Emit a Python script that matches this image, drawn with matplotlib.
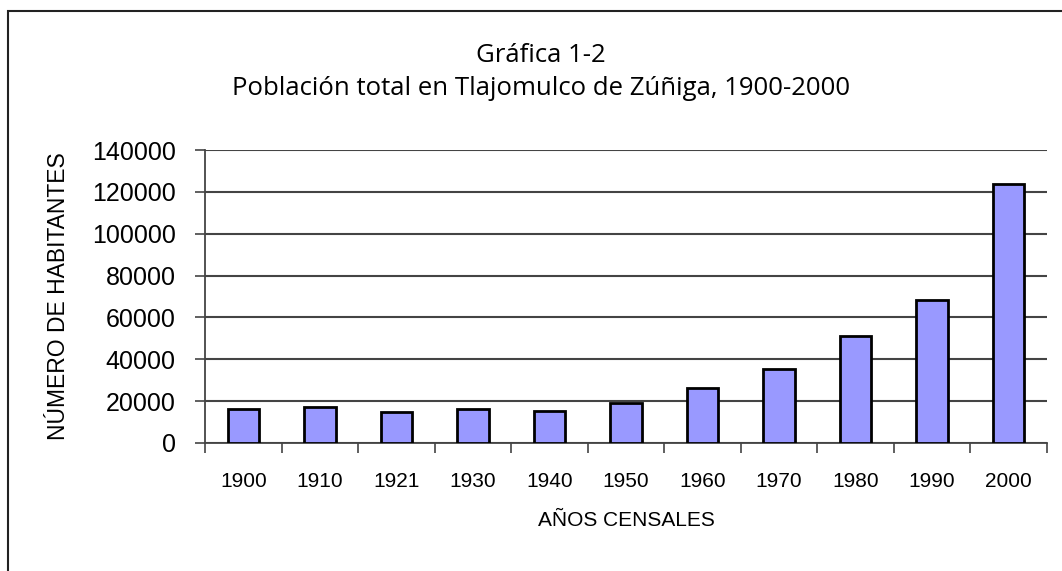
import matplotlib.pyplot as plt
import numpy as np
from matplotlib.patches import Rectangle

years = ['1900', '1910', '1921', '1930', '1940', '1950', '1960', '1970', '1980', '1990', '2000']
population = [16200, 17000, 14900, 16200, 15500, 19100, 26100, 35300, 50900, 68400, 123600]
title_lines = ['Gráfica 1-2', 'Población total en Tlajomulco de Zúñiga, 1900-2000']

W, H = 1062, 571
fig = plt.figure(figsize=(W / 100, H / 100), dpi=100)
fig.patch.set_facecolor('white')
# outer chart border (only top and left are inside the picture)
fig.add_artist(Rectangle((8 / W, -0.1), 1.2, 1 - 11 / H + 0.1, transform=fig.transFigure,
                         fill=False, edgecolor='#222222', linewidth=1.5))

ax = fig.add_axes([205 / W, 1 - 443 / H, 842 / W, 293 / H])
x = np.arange(len(years))
ax.bar(x, population, width=0.41, color='#9999ff', edgecolor='black', linewidth=2, zorder=3)

ax.set_xlim(-0.5, len(years) - 0.5)
ax.set_ylim(0, 140000)
ax.set_yticks(np.arange(0, 140001, 20000))
ax.set_yticklabels([str(v) for v in range(0, 140001, 20000)], fontsize=18, family='Liberation Sans')
ax.yaxis.grid(True, color='#444444', linewidth=1.5, zorder=0)

# category boundaries get the tick marks, labels sit in the middle
ax.set_xticks(np.arange(-0.5, len(years), 1.0))
ax.set_xticklabels([])
ax.set_xticks(x, minor=True)
ax.set_xticklabels(years, minor=True, fontsize=15, family='Liberation Sans')
ax.tick_params(axis='x', which='major', length=7, width=1.2, color='#444444', direction='out')
ax.tick_params(axis='x', which='minor', length=0, pad=21)
ax.tick_params(axis='y', length=7, width=1.2, color='#444444', pad=14)

for s in ['top', 'right']:
    ax.spines[s].set_visible(False)
for s in ['left', 'bottom']:
    ax.spines[s].set_color('#444444')
    ax.spines[s].set_linewidth(1.3)

ax.set_xlabel('AÑOS CENSALES', fontsize=15, family='Liberation Sans', labelpad=14)
ax.set_ylabel('NÚMERO DE HABITANTES', fontsize=16.5, family='Liberation Sans')
ax.yaxis.label.set_verticalalignment('center')
ax.yaxis.set_label_coords((59 - 205) / 842, 0.5)

fig.text(541 / W, 1 - 62 / H, title_lines[0], ha='center', va='baseline', fontsize=18.5, family='Open Sans')
fig.text(541 / W, 1 - 95 / H, title_lines[1], ha='center', va='baseline', fontsize=18.5, family='Open Sans')

fig.savefig('out.png', dpi=100)
